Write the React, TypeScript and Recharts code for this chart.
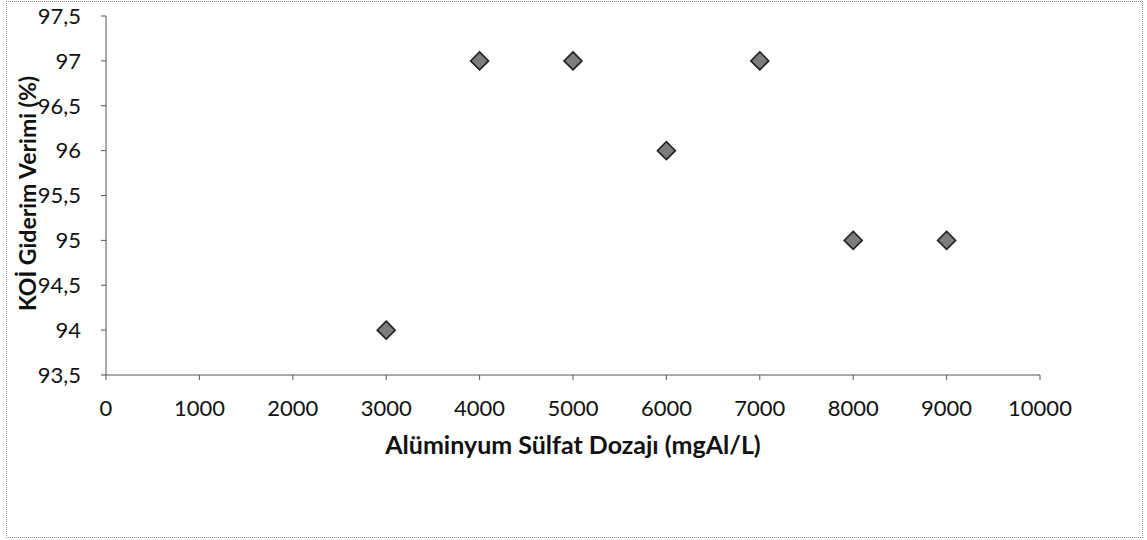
import React from 'react';
import { ScatterChart, Scatter, XAxis, YAxis, Label } from 'recharts';

// Alüminyum sülfat dozu ve KOİ giderim verimi
const dozaj = [3000, 4000, 5000, 6000, 7000, 8000, 9000];
const verim = [94, 97, 97, 96, 97, 95, 95];

const xTicks = [0, 1000, 2000, 3000, 4000, 5000, 6000, 7000, 8000, 9000, 10000];
const yTicks = [93.5, 94, 94.5, 95, 95.5, 96, 96.5, 97, 97.5];

const data = dozaj.map((x, i) => ({ x, y: verim[i] }));

const FONT = 'Lato, "Open Sans", sans-serif';
const AXIS = '#555';

const Diamond = (props: any) => {
  const { cx, cy } = props;
  const r = 9;
  return (
    <polygon
      points={`${cx},${cy - r} ${cx + r},${cy} ${cx},${cy + r} ${cx - r},${cy}`}
      fill="#7d7d7d"
      stroke="#222"
      strokeWidth={1.6}
    />
  );
};

const fmt = (v: number) => String(v).replace('.', ',');

// dikey eksen başlığı, eksen kutusunun ortasına
const YTitle = (props: any) => {
  const vb = props.viewBox || { x: 0, y: 0, width: 0, height: 0 };
  const x = vb.x + 27;
  const y = vb.y + vb.height / 2 - 2;
  return (
    <text
      x={x}
      y={y}
      transform={`rotate(-90 ${x} ${y})`}
      textAnchor="middle"
      dominantBaseline="central"
      style={{ fill: '#111', fontSize: 23, fontWeight: 700, fontFamily: FONT }}
    >
      KOİ Giderim Verimi (%)
    </text>
  );
};

export default function App() {
  return (
    <div style={{ position: 'absolute', left: 0, top: 0, width: 1147, height: 540, background: '#fff' }}>
      <div
        style={{
          position: 'absolute',
          left: 6,
          top: 1,
          width: 1135,
          height: 535,
          border: '1px dotted #8a8a8a',
        }}
      />
      <ScatterChart
        width={1147}
        height={540}
        margin={{ top: 16, right: 107, left: 0, bottom: 0 }}
        style={{ fontFamily: FONT }}
      >
        <XAxis
          type="number"
          dataKey="x"
          domain={[0, 10000]}
          ticks={xTicks}
          interval={0}
          height={165}
          tickSize={5}
          tickMargin={20}
          stroke={AXIS}
          tick={{ fill: '#111', fontSize: 22, fontFamily: FONT }}
        >
          <Label
            value="Alüminyum Sülfat Dozajı (mgAl/L)"
            position="insideTop"
            offset={61}
            style={{ fill: '#111', fontSize: 25, fontWeight: 700, fontFamily: FONT }}
          />
        </XAxis>
        <YAxis
          type="number"
          dataKey="y"
          domain={[93.5, 97.5]}
          ticks={yTicks}
          interval={0}
          width={106}
          tickSize={5}
          tickMargin={20}
          stroke={AXIS}
          tickFormatter={fmt}
          tick={{ fill: '#111', fontSize: 22, fontFamily: FONT }}
        >
          <Label content={<YTitle />} />
        </YAxis>
        <Scatter data={data} shape={Diamond} isAnimationActive={false} />
      </ScatterChart>
    </div>
  );
}
